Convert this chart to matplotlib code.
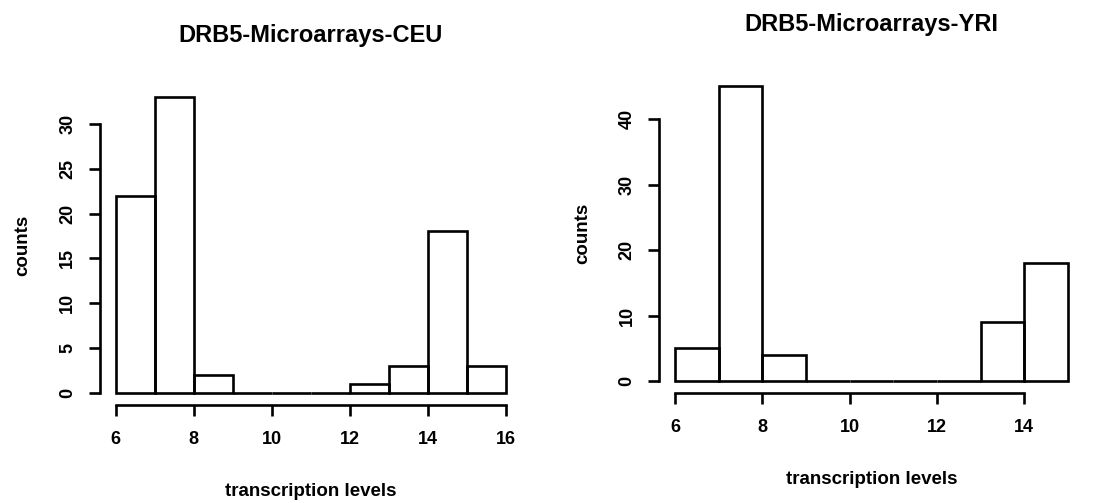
import numpy as np
import matplotlib as mpl
mpl.use('Agg')
import matplotlib.pyplot as plt

plt.rcParams['font.family'] = ['Liberation Sans', 'DejaVu Sans']

# CEU histogram
ceu_breaks = [6, 7, 8, 9, 10, 11, 12, 13, 14, 15, 16]
ceu_counts = [22, 33, 2, 0, 0, 0, 1, 3, 18, 3]
ceu_xticks = [6, 8, 10, 12, 14, 16]
ceu_yticks = [0, 5, 10, 15, 20, 25, 30]

# YRI histogram
yri_breaks = [6, 7, 8, 9, 10, 11, 12, 13, 14, 15]
yri_counts = [5, 45, 4, 0, 0, 0, 0, 9, 18]
yri_xticks = [6, 8, 10, 12, 14]
yri_yticks = [0, 10, 20, 30, 40]


def rhist(ax, breaks, counts, xticks, yticks, title):
    edges = np.array(breaks, dtype=float)
    ax.bar(edges[:-1], counts, width=np.diff(edges), align='edge',
           fill=False, edgecolor='black', linewidth=1.9)
    # R style 4% range expansion
    xr = edges[-1] - edges[0]
    ax.set_xlim(edges[0] - 0.04 * xr, edges[-1] + 0.04 * xr)
    yr = max(counts)
    ax.set_ylim(-0.04 * yr, yr * 1.04)

    for loc in ['top', 'right']:
        ax.spines[loc].set_visible(False)
    ax.spines['left'].set_bounds(yticks[0], yticks[-1])
    ax.spines['bottom'].set_bounds(xticks[0], xticks[-1])
    ax.spines['left'].set_linewidth(1.9)
    ax.spines['bottom'].set_linewidth(1.9)

    ax.set_xticks(xticks)
    ax.set_yticks(yticks)
    ax.tick_params(axis='x', length=8, width=1.9, labelsize=13, pad=11)
    ax.tick_params(axis='y', length=8, width=1.9, labelsize=13, pad=9)
    for lab in ax.get_xticklabels() + ax.get_yticklabels():
        lab.set_fontweight('bold')
    for lab in ax.get_yticklabels():
        lab.set_rotation(90)
        lab.set_va('center')

    ax.set_title(title, fontsize=17, fontweight='bold', pad=31)
    ax.set_xlabel('transcription levels', fontsize=13.5, fontweight='bold', labelpad=25)
    ax.set_ylabel('counts', fontsize=13.5, fontweight='bold', labelpad=20)


fig = plt.figure(figsize=(10.95, 5.03), dpi=100)

ax1 = fig.add_axes([0.0913, 0.195, 0.385, 0.636])
rhist(ax1, ceu_breaks, ceu_counts, ceu_xticks, ceu_yticks, 'DRB5-Microarrays-CEU')

ax2 = fig.add_axes([0.602, 0.219, 0.3876, 0.633])
rhist(ax2, yri_breaks, yri_counts, yri_xticks, yri_yticks, 'DRB5-Microarrays-YRI')

plt.savefig('out.png', dpi=100)
plt.close()
